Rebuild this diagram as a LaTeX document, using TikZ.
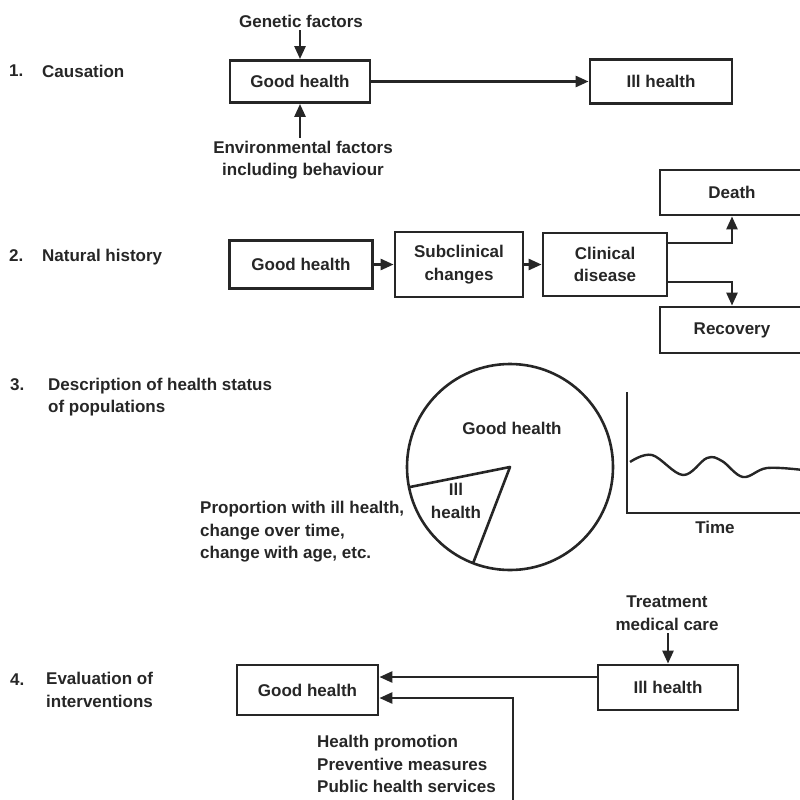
\documentclass[tikz,border=0pt]{standalone}
\usepackage{fontspec}
\setmainfont{Liberation Sans}
\usetikzlibrary{arrows.meta}
\begin{document}
\begin{tikzpicture}[x=1pt,y=-1pt,
  every node/.style={font=\fontsize{17}{22.5}\selectfont\bfseries, text=black!85, inner sep=0pt},
  box/.style={draw=black!85, line width=2.8pt, align=center},
  ln/.style={draw=black!85, line width=2.6pt},
  arr/.style={ln, -{Triangle[length=13pt,width=11pt]}}]
\useasboundingbox (0,0) rectangle (800,800);
% ---------- 1. Causation
\node[anchor=west] (n1) at (9,71) {1.};
\node[anchor=west] (t1) at (42,71) {Causation};
\node[box, minimum width=140pt, minimum height=42pt] (gh1) at (300,81.5) {Good health};
\node (gen) at (301,21) {Genetic factors};
\node[align=center] (env) at (303,160) {Environmental factors\\including behaviour};
\node[box, minimum width=142pt, minimum height=44pt] (ih1) at (661,81.5) {Ill health};
\draw[arr] (gh1.north |- gen.south) ++(0,3) -- (gh1.north);
\draw[arr] (gh1.south |- env.north) ++(0,-3) -- (gh1.south);
\draw[arr] (gh1.east) -- (ih1.west);
% ---------- 2. Natural history
\node[anchor=west] (n2) at (9,256) {2.};
\node[anchor=west] (t2) at (42,257) {Natural history};
\node[box, minimum width=143pt, minimum height=48pt] (gh2) at (301,264.5) {Good health};
\node[box, minimum width=128pt, minimum height=65pt] (sub) at (459,264.5) {Subclinical\\changes};
\node[box, minimum width=124pt, minimum height=63pt] (clin) at (605,264.5) {Clinical\\disease};
\node[box, minimum width=144pt, minimum height=45pt] (death) at (732,192.5) {Death};
\node[box, minimum width=144pt, minimum height=46pt] (rec) at (732,330) {Recovery};
\draw[arr] (gh2.east) -- (sub.west);
\draw[arr] (sub.east) -- (clin.west);
\coordinate (c1) at ([yshift=21.5pt]clin.east);
\coordinate (c2) at ([yshift=-17.5pt]clin.east);
\draw[arr] (c1) -| (death.south);
\draw[arr] (c2) -| (rec.north);
% ---------- 3. Description
\node[anchor=west] (n3) at (10,385) {3.};
\node[anchor=west, align=left] (t3) at (48,397) {Description of health status\\of populations};
\node[circle, ln, minimum size=206pt] (circ) at (510,467) {};
\node (goodc) at (512,428) {Good health};
\draw[ln, line join=round] (circ.center) ++(168.7:103) -- (circ.center) -- ++(111:103);
\node[align=center] (illc) at (456,501) {Ill\\health};
\node[anchor=west, align=left] (prop) at (200,532) {Proportion with ill health,\\change over time,\\change with age, etc.};
\coordinate (ytop) at (627,392);
\coordinate (orig) at (627,513);
\coordinate (xend) at (815,513);
\draw[ln] (ytop) -- (orig) -- (xend);
\node (time) at (715,527) {Time};
\draw[ln, line width=2.4pt] plot[smooth, tension=0.6] coordinates {(630,462) (652,455) (683,475) (707,458) (722,461) (743,477) (767,468) (803,470)};
% ---------- 4. Evaluation
\node[anchor=west] (n4) at (10,680) {4.};
\node[anchor=west, align=left] (t4) at (46,690) {Evaluation of\\interventions};
\node[box, minimum width=141pt, minimum height=50pt] (gh4) at (307.5,690) {Good health};
\node[box, minimum width=140pt, minimum height=45pt] (ih4) at (668,687.5) {Ill health};
\node[align=center] (treat) at (667,613) {Treatment\\medical care};
\draw[arr] (ih4.north |- treat.south) ++(0,3) -- (ih4.north);
\coordinate (p1) at ([yshift=10.5pt]ih4.west);
\draw[arr] (p1) -- (p1 -| gh4.east);
\node[anchor=west, align=left] (hp) at (317,764) {Health promotion\\Preventive measures\\Public health services};
\coordinate (q1) at ([yshift=-8pt]gh4.east);
\coordinate (hpbot) at (513,815);
\draw[arr] (hpbot) |- (q1);
\end{tikzpicture}
\end{document}
